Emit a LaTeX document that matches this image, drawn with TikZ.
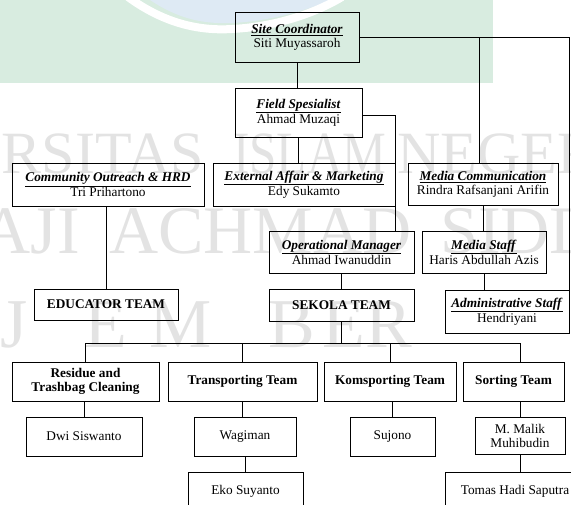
\documentclass[tikz,border=0pt]{standalone}
\usepackage{fontspec}
\setmainfont{Liberation Serif}

\definecolor{bandgreen}{RGB}{216,236,224}
\definecolor{swoosh}{RGB}{222,234,244}
\newcommand{\rolehead}[1]{\underline{\textbf{\textit{#1}}}}

\begin{document}
\begin{tikzpicture}[x=1pt, y=-1pt,
	post/.style={draw, line width=0.9pt, align=center, inner sep=1pt,
		font=\fontsize{13.3}{14}\selectfont},
	team/.style={post, font=\fontsize{13.3}{14}\selectfont\bfseries},
	wm/.style={text=black!11, inner sep=0pt, font=\fontsize{#1}{#1}\selectfont},
	link/.style={line width=0.9pt}]
	\useasboundingbox (0,0) rectangle (571,504);
	\clip (0,0) rectangle (571,504);

	% background and watermark
	\fill[bandgreen] (0,0) rectangle (493,83);
	\fill[swoosh] (150,0) .. controls (180,20) and (205,24) .. (232,23) .. controls (272,21) and (306,10) .. (332,0) -- cycle;
	\draw[white, line width=8pt] (128,-3) .. controls (165,24) and (200,31) .. (232,29) .. controls (272,27) and (312,15) .. (342,-3);
	\node[wm=60, anchor=base east] (w1) at (204,173) {UNIVERSITAS};
	\node[wm=60, anchor=base west] (w2) at (233,173) {\scalebox{0.82}[1]{ISLAM}};
	\node[wm=60, anchor=base west] (w3) at (397,173) {NEGERI};
	\node[wm=68, anchor=base east] (w4) at (80,253) {HAJI};
	\node[wm=68, anchor=base west] (w5) at (109,253) {ACHMAD};
	\node[wm=68, anchor=base west] (w6) at (440,253) {SIDDIQ};
	\node[wm=70, anchor=base west] (w7) at (0,347) {J};
	\node[wm=70, anchor=base west] (w8) at (84,347) {E};
	\node[wm=70, anchor=base west] (w9) at (149,347) {M};
	\node[wm=70, anchor=base west] (w10) at (268,347) {B};
	\node[wm=70, anchor=base west] (w11) at (322,347) {E};
	\node[wm=70, anchor=base west] (w12) at (365,347) {R};

	% boxes
	\node[post, minimum width=124pt, minimum height=50pt] (site) at (297,37) {\rolehead{Site Coordinator}\\Siti Muyassaroh};
	\node[post, minimum width=127pt, minimum height=49pt] (field) at (298.5,112.5) {\rolehead{Field Spesialist}\\Ahmad Muzaqi};
	\node[post, minimum width=192pt, minimum height=43pt] (comm) at (108,184.5) {\rolehead{Community Outreach \& HRD}\\Tri Prihartono};
	\node[post, minimum width=182pt, minimum height=43pt] (ext) at (304,184.5) {\rolehead{External Affair \& Marketing}\\Edy Sukamto};
	\node[post, minimum width=150pt, minimum height=42pt] (mcomm) at (483,184) {\rolehead{Media Communication}\\Rindra Rafsanjani Arifin};
	\node[post, minimum width=145pt, minimum height=42pt] (om) at (341.5,252) {\rolehead{Operational Manager}\\Ahmad Iwanuddin};
	\node[post, minimum width=124pt, minimum height=42pt] (mstaff) at (484,252) {\rolehead{Media Staff}\\Haris Abdullah Azis};
	\node[team, minimum width=144pt, minimum height=31pt] (educator) at (106,304.5) {EDUCATOR TEAM};
	\node[team, minimum width=145pt, minimum height=32pt] (sekola) at (341.5,305) {SEKOLA TEAM};
	\node[post, minimum width=124pt, minimum height=43pt] (admin) at (507,311.5) {\rolehead{Administrative Staff}\\Hendriyani};

	\node[team, minimum width=147pt, minimum height=39pt] (residue) at (85.5,381.5) {Residue and\\Trashbag Cleaning};
	\node[team, minimum width=149pt, minimum height=39pt] (transport) at (242.5,381.5) {Transporting Team};
	\node[team, minimum width=132pt, minimum height=39pt] (komsport) at (390,381.5) {Komsporting Team};
	\node[team, minimum width=101pt, minimum height=39pt] (sorting) at (513.5,381.5) {Sorting Team};

	\node[post, minimum width=116pt, minimum height=39pt] (dwi) at (84,436.5) {Dwi Siswanto};
	\node[post, minimum width=102pt, minimum height=39pt] (wagiman) at (245,436.5) {Wagiman};
	\node[post, minimum width=85pt, minimum height=39pt] (sujono) at (392.5,436.5) {Sujono};
	\node[post, minimum width=90pt, minimum height=37pt] (malik) at (520,435.5) {M. Malik\\Muhibudin};
	\node[post, minimum width=115pt, minimum height=39pt] (eko) at (245.5,491.5) {Eko Suyanto};
	\node[post, minimum width=140pt, minimum height=39pt] (tomas) at (515,491.5) {Tomas Hadi Saputra};

	% connectors
	\coordinate (drop) at (479,37);
	\coordinate (bus) at (0,343);
	\draw[link] (site.east) -| (admin.north east);
	\draw[link] (drop) -- (drop |- mcomm.north);
	\draw[link] (site) -- (site |- field.north);
	\draw[link] (field) -- (field |- ext.north);
	\draw[link] ([yshift=-2.5pt]field.east) -| ([xshift=53.5pt]om.north);
	\draw[link] (educator) -- (educator |- comm.south);
	\draw[link] (om) -- (sekola);
	\draw[link] (mcomm) -- (mcomm |- mstaff.north);
	\draw[link] (mstaff) -- (mstaff |- admin.north);
	\draw[link] (sekola) -- (sekola |- bus);
	\draw[link] (residue) |- (malik |- bus) -- (malik |- sorting.north);
	\draw[link] (transport) -- (transport |- bus);
	\draw[link] (komsport) -- (komsport |- bus);
	\draw[link] (dwi) -- (dwi |- residue.south);
	\draw[link] (transport) -- (transport |- wagiman.north);
	\draw[link] (wagiman) -- (wagiman |- eko.north);
	\draw[link] (sujono) -- (sujono |- komsport.south);
	\draw[link] (malik) -- (malik |- sorting.south);
	\draw[link] (malik) -- (malik |- tomas.north);
\end{tikzpicture}
\end{document}
